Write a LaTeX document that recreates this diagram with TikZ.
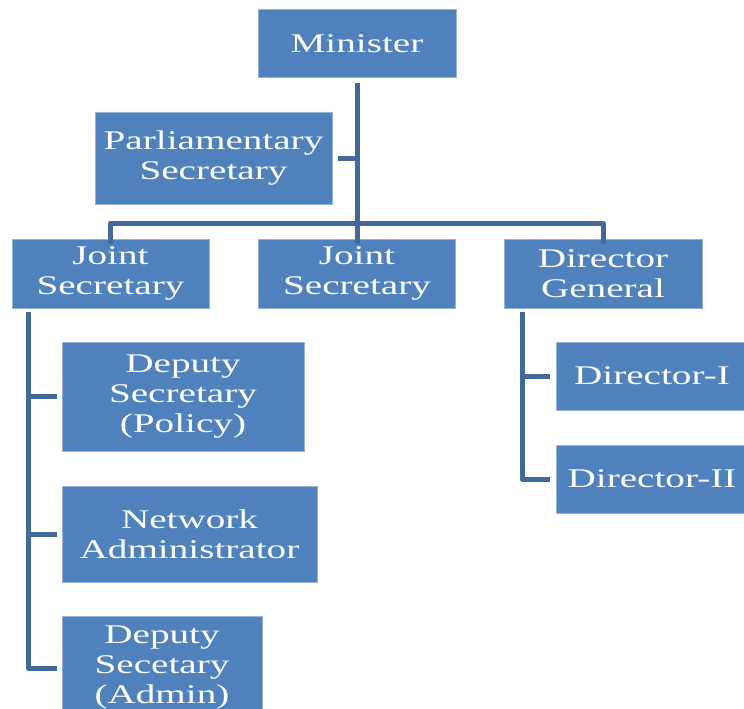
\documentclass[tikz,border=0pt]{standalone}
\usepackage{fontspec}
\setmainfont[FakeStretch=1.45]{Liberation Serif}
\definecolor{boxblue}{HTML}{4F81BD}
\definecolor{lineblue}{HTML}{41699A}
\begin{document}
\begin{tikzpicture}[x=1pt,y=-1pt,
  box/.style={fill=boxblue,draw=boxblue!60!white,line width=0.6pt,text=white,inner sep=0pt,align=center,
    font=\fontsize{27}{30}\selectfont},
  conn/.style={draw=lineblue,line width=5pt,line join=round}]
\useasboundingbox (0,0) rectangle (744,709);
\node[box,minimum width=198,minimum height=68] (min) at (357,43.5) {Minister};
\node[box,minimum width=237,minimum height=92] (ps) at (213.5,158) {Parliamentary\\Secretary};
\node[box,minimum width=197,minimum height=69] (js1) at (110.5,273.5) {Joint\\Secretary};
\node[box,minimum width=197,minimum height=69] (js2) at (357,273.5) {Joint\\Secretary};
\node[box,minimum width=198,minimum height=69] (dg) at (603,273.5) {Director\\General};
\node[box,minimum width=242,minimum height=109] (dsp) at (183,396.5) {Deputy\\Secretary\\(Policy)};
\node[box,minimum width=255,minimum height=96] (na) at (189.5,534) {Network\\Administrator};
\node[box,minimum width=200,minimum height=104] (dsa) at (162,668) {Deputy\\Secetary\\(Admin)};
\node[box,minimum width=192,minimum height=68] (d1) at (652,376) {Director-I};
\node[box,minimum width=192,minimum height=68] (d2) at (652,479) {Director-II};
\coordinate (bar) at (357,223);
\coordinate (lv) at (28,312);
\coordinate (rv) at (522,312);
% top trunk
\draw[conn] ([yshift=-5pt]min.south) -- ([yshift=-5pt]js2.north);
\draw[conn] ([xshift=6pt]ps.east) -- (ps.east -| min.south);
\draw[conn] ([yshift=-5pt]js1.north) |- (bar) -| ([yshift=-5pt]dg.north);
% left branch
\draw[conn] (lv) |- ([xshift=-5pt]dsa.west);
\draw[conn] (lv |- dsp.west) -- ([xshift=-5pt]dsp.west);
\draw[conn] (lv |- na.west) -- ([xshift=-5pt]na.west);
% right branch
\draw[conn] (rv) |- ([xshift=-6pt]d2.west);
\draw[conn] (rv |- d1.west) -- ([xshift=-6pt]d1.west);
\end{tikzpicture}
\end{document}
